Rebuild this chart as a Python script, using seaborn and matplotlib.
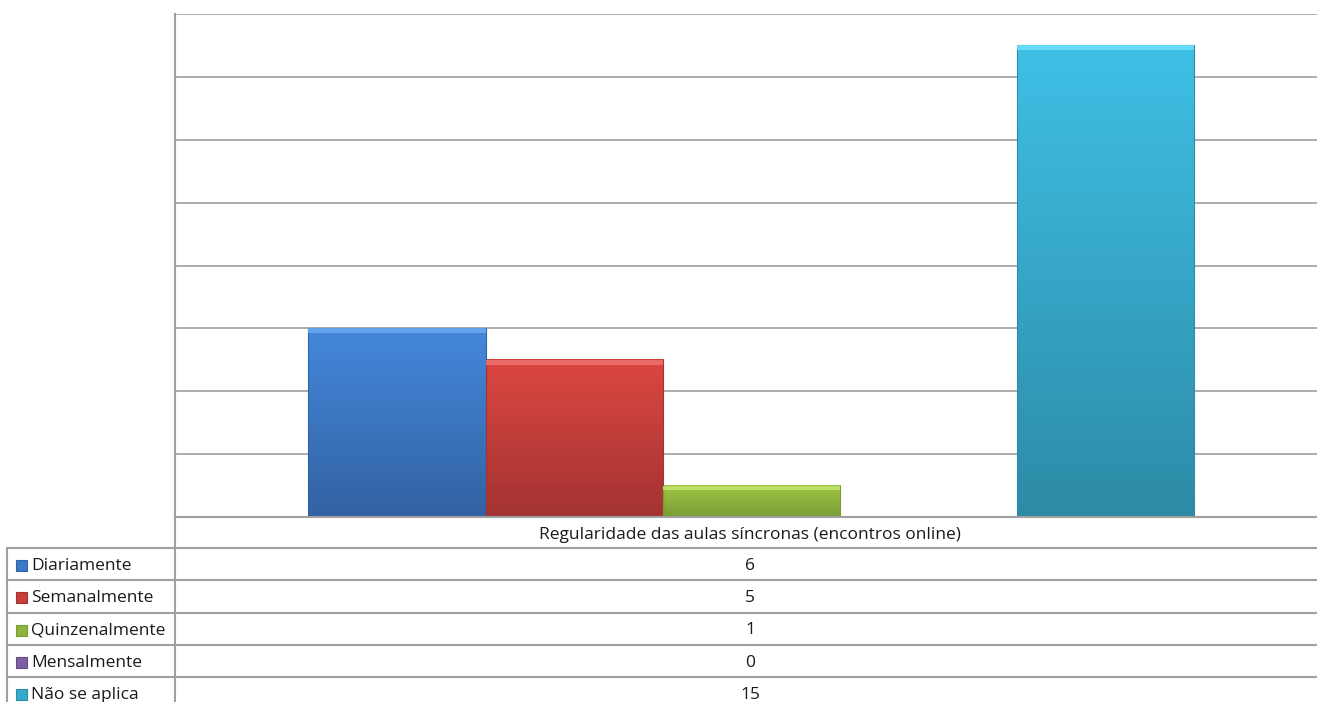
import numpy as np
import pandas as pd
import seaborn as sns
import matplotlib.pyplot as plt
from matplotlib.colors import LinearSegmentedColormap
from matplotlib.patches import Rectangle

category = "Regularidade das aulas síncronas (encontros online)"
series = ["Diariamente", "Semanalmente", "Quinzenalmente", "Mensalmente", "Não se aplica"]
values = [6, 5, 1, 0, 15]

mid_colors = ["#3b78c6", "#c63e3b", "#8fb33e", "#7b5ea3", "#36a9cc"]
top_colors = ["#4488dc", "#dc4742", "#9fc442", "#8b6bb5", "#3fc0e6"]
bottom_colors = ["#3262a2", "#a33332", "#7a9d35", "#654a88", "#2d8ba6"]
light_colors = ["#6aaaf0", "#f07470", "#c4e870", "#a98ad0", "#70e2fa"]

df = pd.DataFrame({"categoria": [category] * len(series),
                   "serie": series,
                   "valor": values})

sns.set_style("white")
plt.rcParams['font.family'] = ['Open Sans', 'DejaVu Sans']

W, H = 1317, 702
fig = plt.figure(figsize=(W / 100, H / 100), dpi=100)
ax = fig.add_axes([175 / W, 1 - 517 / H, (1317 - 175) / W, (517 - 14) / H])

sns.barplot(data=df, x="categoria", y="valor", hue="serie",
            hue_order=series, palette=mid_colors, saturation=1,
            width=0.775, legend=False, ax=ax)

# vertical gradient on each bar, clipped to the bar shape, plus a light top bevel
for p, top, bot, light in zip(ax.patches, top_colors, bottom_colors, light_colors):
    p.set_linewidth(0)
    h = p.get_height()
    if h <= 0:
        continue
    x0, y0, w = p.get_x(), p.get_y(), p.get_width()
    cmap = LinearSegmentedColormap.from_list("g", [bot, top])
    grad = np.linspace(0, 1, 256)[:, None]
    ax.imshow(grad, cmap=cmap, extent=[x0, x0 + w, y0, y0 + h],
              origin="lower", aspect="auto", zorder=p.get_zorder() + 0.1,
              clip_path=p, clip_on=True)
    bevel = 0.15
    ax.add_patch(Rectangle((x0, y0 + h - bevel), w, bevel,
                           facecolor=light, edgecolor="none", alpha=0.85,
                           zorder=p.get_zorder() + 0.2))
    # thin darker outline at sides and bottom
    ax.add_patch(Rectangle((x0, y0), w, h, facecolor="none", edgecolor=bot,
                           linewidth=0.8, zorder=p.get_zorder() + 0.15))

ax.set_xlim(-0.5044, 0.4956)
ax.set_ylim(0, 16)
ax.set_yticks(range(0, 17, 2))
ax.set_xticks([])
ax.tick_params(left=False, labelleft=False)
ax.set_xlabel("")
ax.set_ylabel("")
ax.set_axisbelow(True)
ax.yaxis.grid(True, color="#a6a6a6", linewidth=1.3)
for side in ["top", "right"]:
    ax.spines[side].set_visible(False)
for side in ["left", "bottom"]:
    ax.spines[side].set_color("#a0a0a0")
    ax.spines[side].set_linewidth(1.5)

# data table under the chart
ov = fig.add_axes([0, 0, 1, 1])
ov.set_xlim(0, W)
ov.set_ylim(H, 0)
ov.axis("off")
line_kw = dict(color="#a0a0a0", linewidth=1.5)
row_h = 32.3
rows_top = 548
ov.plot([175, 175], [517, H], **line_kw)
ov.plot([7, 7], [rows_top, H], **line_kw)
for i in range(len(series) + 1):
    y = rows_top + i * row_h
    if y < H:
        ov.plot([7, W], [y, y], **line_kw)

fs = 12.5
ov.text(750, 535, category, ha="center", va="center", fontsize=fs, color="#1a1a1a")
for i, (name, val) in enumerate(zip(series, values)):
    yc = rows_top + (i + 0.5) * row_h + 1.5
    ov.add_patch(Rectangle((16, yc - 5.5), 11, 11, facecolor=mid_colors[i],
                           edgecolor=bottom_colors[i], linewidth=0.8))
    ov.text(31, yc, name, ha="left", va="center", fontsize=fs, color="#1a1a1a")
    ov.text(750, yc, str(val), ha="center", va="center", fontsize=fs, color="#1a1a1a")

fig.savefig("out.png", dpi=100)
